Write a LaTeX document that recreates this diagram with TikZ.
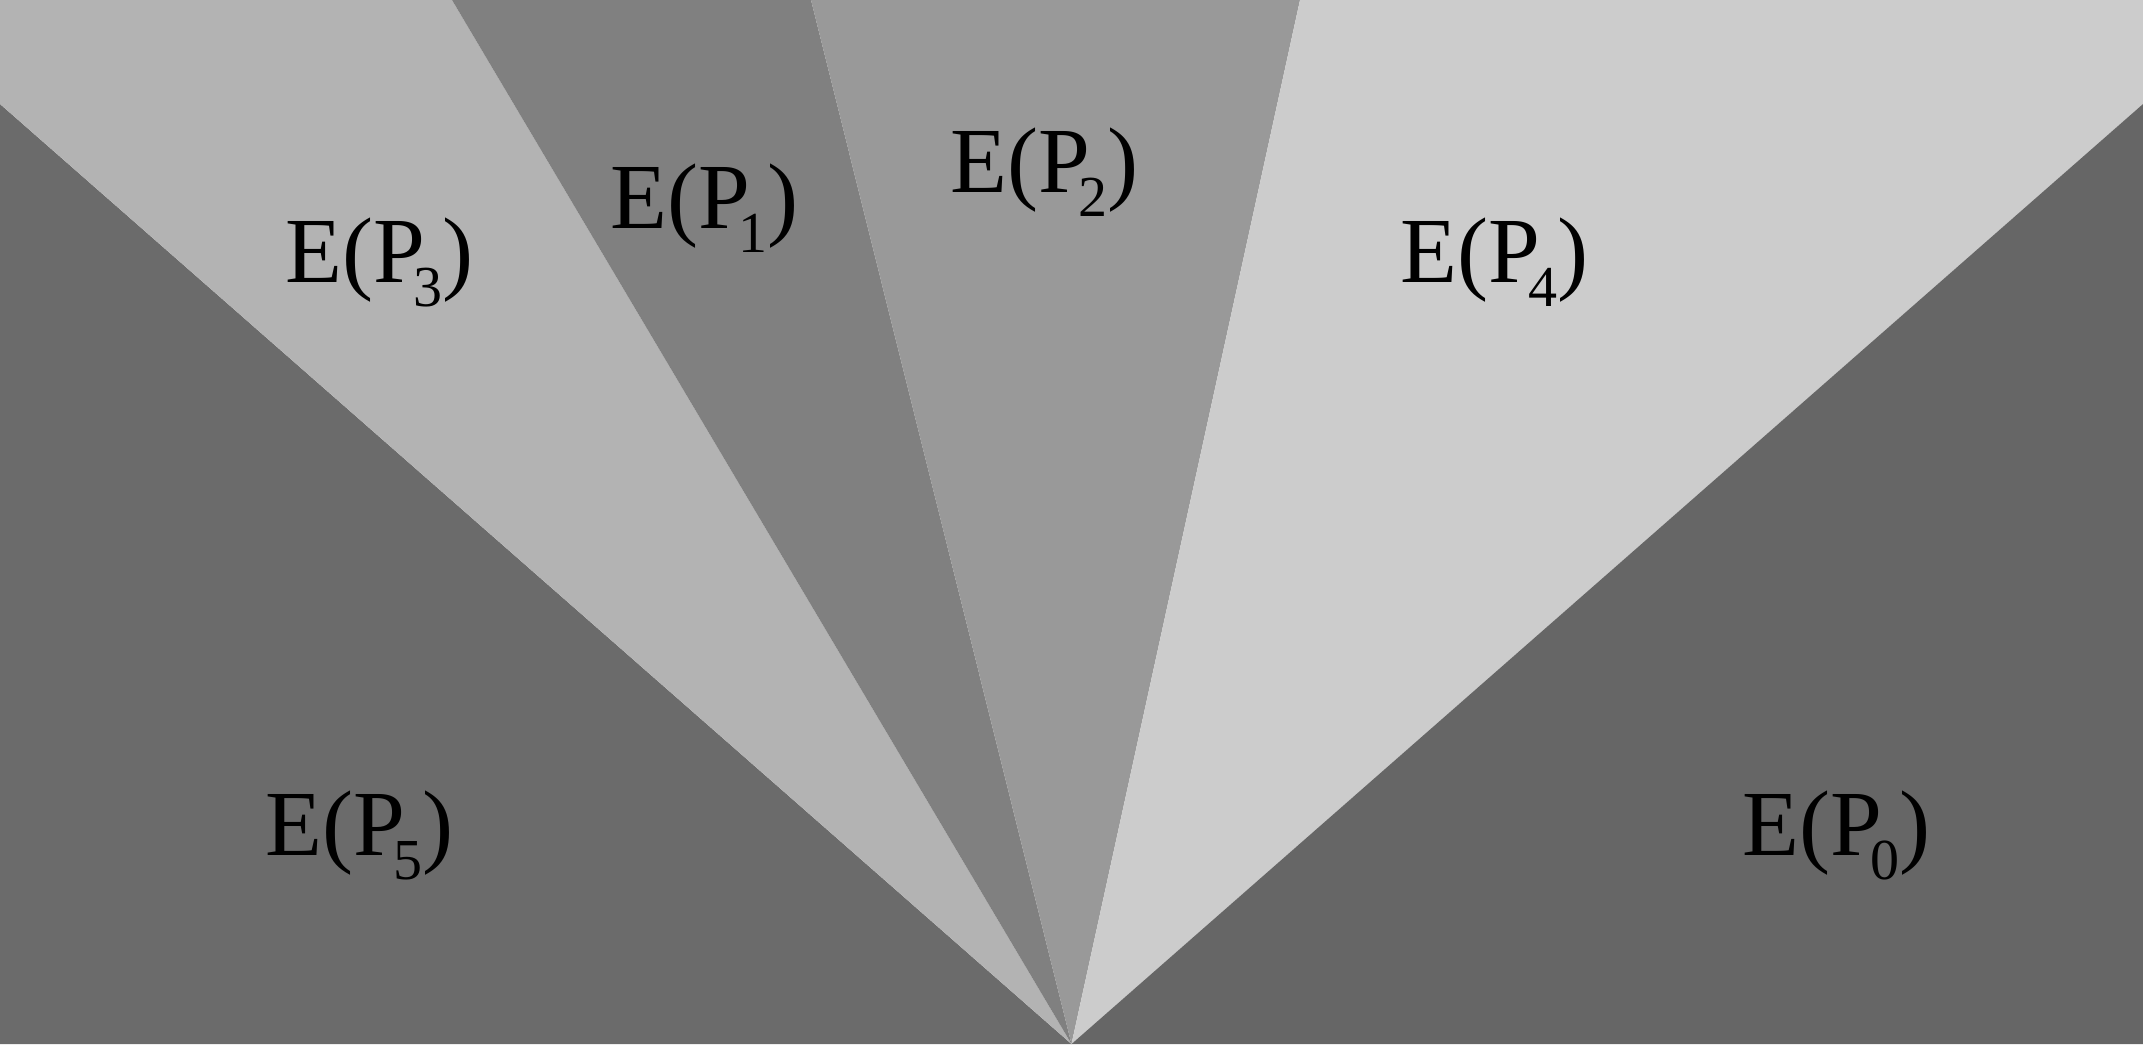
\documentclass[tikz,border=0pt]{standalone}
\usepackage{fontspec}
\setmainfont{Liberation Serif}
\usepackage{tikz}
\definecolor{darkL}{RGB}{107,107,107}
\definecolor{darkR}{RGB}{102,102,102}
\definecolor{grayA}{RGB}{179,179,179}
\definecolor{grayB}{RGB}{128,128,128}
\definecolor{grayC}{RGB}{153,153,153}
\definecolor{grayD}{RGB}{204,204,204}
\newcommand\EP[1]{E(P\kern-0.13em\raisebox{-0.26em}{\fontsize{16.5}{16.5}\selectfont #1})}
\tikzset{region/.style={inner sep=0pt, anchor=base west, font=\fontsize{26.5}{28}\selectfont}}

\begin{document}
\begin{tikzpicture}[x=0.01cm, y=-0.01cm]
\useasboundingbox (0,0) rectangle (2143,1044);
\coordinate (apex) at (1071.5,1044);
\fill [darkL] (0,104) -- (apex) -- (0,1044) -- cycle;
\fill [grayA] (0,0) -- (452,0) -- (apex) -- (0,104) -- cycle;
\fill [grayB] (452,0) -- (811,0) -- (apex) -- cycle;
\fill [grayC] (811,0) -- (1300,0) -- (apex) -- cycle;
\fill [grayD] (1300,0) -- (2143,0) -- (2143,104) -- (apex) -- cycle;
\fill [darkR] (2143,104) -- (2143,1044) -- (apex) -- cycle;
\node [region] (p3) at (285,282) {\EP{3}};
\node [region] (p1) at (610,228) {\EP{1}};
\node [region] (p2) at (950,192) {\EP{2}};
\node [region] (p4) at (1400,282) {\EP{4}};
\node [region] (p5) at (265,855) {\EP{5}};
\node [region] (p0) at (1742,855) {\EP{0}};
\end{tikzpicture}
\end{document}
